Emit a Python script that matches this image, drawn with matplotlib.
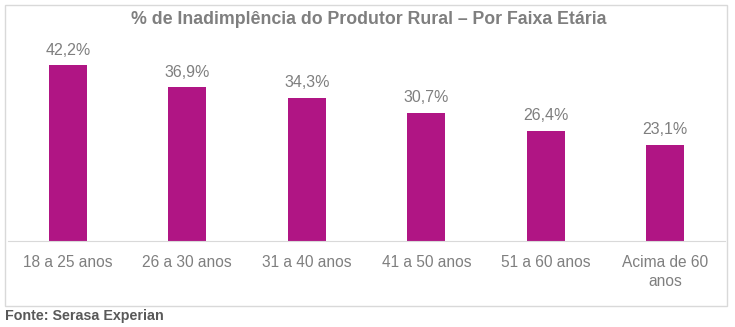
import matplotlib.pyplot as plt
from matplotlib.patches import Rectangle

plt.rcParams['font.family'] = ['Liberation Sans', 'DejaVu Sans']

faixas = ['18 a 25 anos', '26 a 30 anos', '31 a 40 anos', '41 a 50 anos',
          '51 a 60 anos', 'Acima de 60\nanos']
inadimplencia = [42.2, 36.9, 34.3, 30.7, 26.4, 23.1]

W, H = 735, 327
fig = plt.figure(figsize=(W / 100, H / 100), dpi=100)

# moldura do gráfico
fig.patches.append(Rectangle((5 / W, 1 - 306 / H), 722 / W, 301 / H,
                             transform=fig.transFigure, fill=False,
                             edgecolor='#d9d9d9', linewidth=1))

ax = fig.add_axes([8 / W, 1 - 241 / H, 717 / W, 206 / H])
x = range(len(faixas))
ax.bar(x, inadimplencia, width=0.32, color='#b01584')
ax.set_xlim(-0.5, len(faixas) - 0.5)
ax.set_ylim(0, 206 / 4.17)

for xi, v in zip(x, inadimplencia):
    ax.text(xi, v + 1.8, f'{v:.1f}%'.replace('.', ','), ha='center', va='bottom',
            fontsize=11.5, color='#7f7f7f')

ax.set_xticks(list(x))
ax.set_xticklabels(faixas, fontsize=11.2, color='#7f7f7f', linespacing=1.35)
ax.tick_params(axis='x', length=0, pad=10)
ax.set_yticks([])
for s in ['top', 'right', 'left']:
    ax.spines[s].set_visible(False)
ax.spines['bottom'].set_color('#d9d9d9')

fig.text(369 / W, 1 - 20 / H, '% de Inadimplência do Produtor Rural – Por Faixa Etária',
         ha='center', va='center', fontsize=12.8, fontweight='bold', color='#7f7f7f')
fig.text(5 / W, 1 - 316 / H, 'Fonte: Serasa Experian', ha='left', va='center',
         fontsize=10.3, fontweight='bold', color='#595959')

fig.savefig('out.png', dpi=100)
